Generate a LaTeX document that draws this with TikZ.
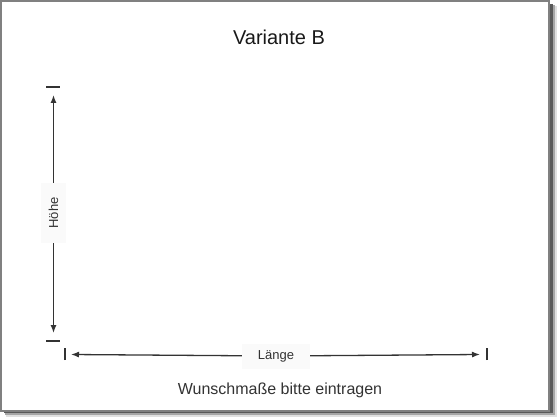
\documentclass[tikz,border=0pt]{standalone}
\usepackage{fontspec}
\setmainfont{Liberation Sans}
\usetikzlibrary{arrows.meta, positioning, calc}

\begin{document}
\begin{tikzpicture}[x=1pt, y=-1pt,
  dimline/.style={draw=black!80, line width=1.3pt, -{Latex[length=8pt,width=6pt]}},
  tickline/.style={draw=black!80, line width=1.4pt},
  dimlabel/.style={fill=black!2, text=black!80, font=\fontsize{13}{15}\selectfont, inner sep=0pt}]
% sheet with shadow
\fill[white] (0,0) rectangle (560,420);
\useasboundingbox (0,0) rectangle (560,420);
\fill[black!12] (6,6) rectangle (557,417);
\fill[black!35] (5,5) rectangle (555,415);
\fill[black!65] (4,4) rectangle (553,413);
\draw[black!50, fill=white, line width=1.2pt] (1,1) rectangle (549,411);

% texts
\node[font=\fontsize{20}{24}\selectfont, text=black!90] (title) at (279,37) {Variante B};
\node[font=\fontsize{16}{19}\selectfont, text=black!80] (hint) at (280,390) {Wunschmaße bitte eintragen};

% height
\node[dimlabel, rotate=90, minimum width=60pt, minimum height=25pt] (hoehe) at (53.5,213) {Höhe};
\coordinate (hTop) at (53.5,95);
\coordinate (hBot) at (53.5,333);
\coordinate (hTopTick) at (53,87);
\coordinate (hBotTick) at (53,341);
\draw[dimline] (hoehe) -- (hTop);
\draw[dimline] (hoehe) -- (hBot);
\draw[tickline] ([xshift=-7pt]hTopTick) -- ([xshift=7pt]hTopTick);
\draw[tickline] ([xshift=-7pt]hBotTick) -- ([xshift=7pt]hBotTick);

% length
\node[dimlabel, minimum width=68pt, minimum height=25pt] (laenge) at (276,356) {Länge};
\coordinate (lLeft) at (71,354.5);
\coordinate (lRight) at (480,354.5);
\coordinate (lLeftTick) at (65,354);
\coordinate (lRightTick) at (487,354);
\draw[dimline] (laenge) -- (lLeft);
\draw[dimline] (laenge) -- (lRight);
\draw[tickline] ([yshift=-6pt]lLeftTick) -- ([yshift=6pt]lLeftTick);
\draw[tickline] ([yshift=-6pt]lRightTick) -- ([yshift=6pt]lRightTick);
\end{tikzpicture}
\end{document}
